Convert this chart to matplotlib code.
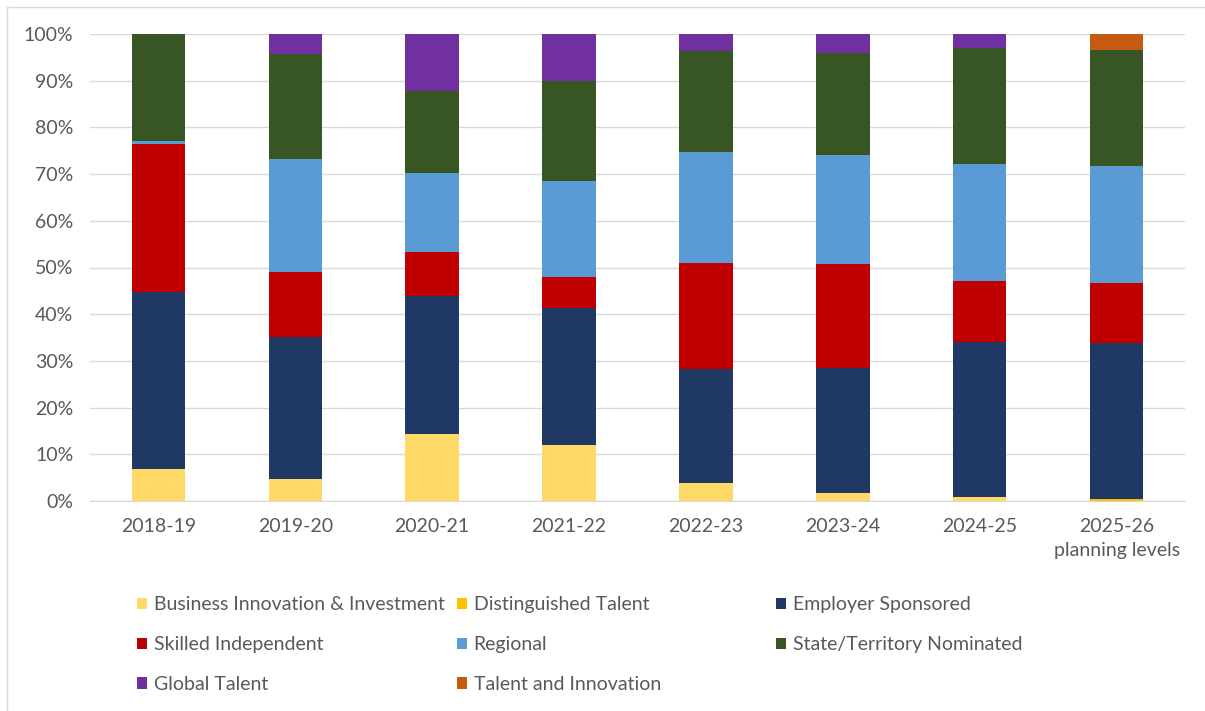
import matplotlib
matplotlib.use("Agg")
import matplotlib.pyplot as plt
import numpy as np
from matplotlib.lines import Line2D

plt.rcParams['font.family'] = ['Lato', 'DejaVu Sans']

categories = ["2018-19", "2019-20", "2020-21", "2021-22", "2022-23",
              "2023-24", "2024-25", "2025-26\nplanning levels"]

series_names = ["Business Innovation & Investment", "Distinguished Talent",
                "Employer Sponsored", "Skilled Independent", "Regional",
                "State/Territory Nominated", "Global Talent", "Talent and Innovation"]

bii = [6.8, 4.7, 14.3, 12.0, 3.8, 1.7, 0.9, 0.0]
dist_talent = [0.0, 0.0, 0.0, 0.0, 0.0, 0.0, 0.0, 0.4]
employer = [38.0, 30.4, 29.6, 29.3, 24.4, 26.7, 33.2, 33.4]
skilled_ind = [31.6, 14.0, 9.4, 6.7, 22.7, 22.3, 13.0, 12.9]
regional = [0.6, 24.1, 16.9, 20.5, 23.9, 23.3, 25.0, 25.1]
state_terr = [23.0, 22.5, 17.7, 21.5, 21.6, 22.0, 24.8, 24.8]
global_talent = [0.0, 4.3, 12.1, 10.0, 3.6, 4.0, 3.1, 0.0]
talent_innov = [0.0, 0.0, 0.0, 0.0, 0.0, 0.0, 0.0, 3.4]

colors = ["#FFD966", "#FFC000", "#1F3864", "#C00000", "#5B9BD5",
          "#375623", "#7030A0", "#C55A11"]

all_series = [bii, dist_talent, employer, skilled_ind, regional,
              state_terr, global_talent, talent_innov]

W, H = 1205, 711
fig = plt.figure(figsize=(W / 100, H / 100), dpi=100)
ax = fig.add_axes([90 / W, (H - 501) / H, (1185 - 90) / W, (501 - 34) / H])

x = np.arange(len(categories))
bottom = np.zeros(len(categories))
handles = []
for name, vals, c in zip(series_names, all_series, colors):
    v = np.array(vals, dtype=float)
    b = ax.bar(x, v, width=0.39, bottom=bottom, color=c, label=name, zorder=3)
    handles.append(b)
    bottom += v

FS = 14
ax.set_xlim(-0.5, len(categories) - 0.5)
ax.set_ylim(0, 100)
ax.set_yticks(np.arange(0, 101, 10))
ax.set_yticklabels([f"{t}%" for t in range(0, 101, 10)])
ax.set_xticks(x)
ax.set_xticklabels(categories, linespacing=1.5)
ax.yaxis.grid(True, color="#D9D9D9", linewidth=1.0, zorder=0)
for s in ["top", "right", "left"]:
    ax.spines[s].set_visible(False)
ax.spines["bottom"].set_color("#D9D9D9")
ax.tick_params(axis="both", length=0, colors="#595959", labelsize=FS)
ax.tick_params(axis="y", pad=12)
ax.tick_params(axis="x", pad=12)

# legend: three columns at fixed positions
cols = [[0, 3, 6], [1, 4, 7], [2, 5]]
col_x = [137, 457, 776]
for xs, idxs in zip(col_x, cols):
    fig.legend([handles[i] for i in idxs], [series_names[i] for i in idxs],
               loc="upper left", bbox_to_anchor=(xs / W, 1 - 596 / H),
               frameon=False, borderpad=0, borderaxespad=0,
               handlelength=0.5, handleheight=0.5, handletextpad=0.35,
               labelspacing=1.18, fontsize=FS, labelcolor="#595959")

# outer chart frame
fig.add_artist(Line2D([7 / W, 7 / W], [0, 1 - 7 / H], transform=fig.transFigure,
                      color="#D9D9D9", linewidth=1))
fig.add_artist(Line2D([7 / W, 1], [1 - 7 / H, 1 - 7 / H], transform=fig.transFigure,
                      color="#D9D9D9", linewidth=1))

fig.savefig("out.png", dpi=100)
